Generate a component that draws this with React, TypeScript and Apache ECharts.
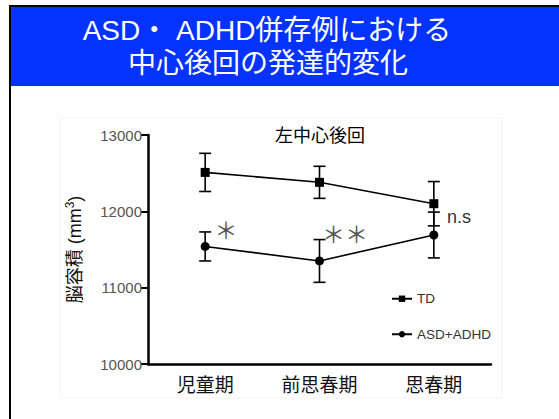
import React, { useEffect, useRef } from "react";
import * as echarts from "echarts";

const categories = ["児童期", "前思春期", "思春期"];
const tdMean = [12510, 12380, 12100];
const tdErr = [250, 210, 290];
const asdMean = [11540, 11350, 11690];
const asdErr = [190, 280, 300];
const yTicks = { min: 10000, max: 13000, interval: 1000 };

const FONT = "Liberation Sans, Arial, Noto Sans CJK JP, sans-serif";
const CJK = "Noto Sans CJK JP, sans-serif";

function errData(mean: number[], err: number[]) {
  return mean.map((m, i) => [i, m - err[i], m + err[i]]);
}

function renderErr(params: any, api: any) {
  const x = api.value(0);
  const lo = api.coord([x, api.value(1)]);
  const hi = api.coord([x, api.value(2)]);
  const hw = 6;
  const style = { stroke: "#000", lineWidth: 1.6 };
  return {
    type: "group",
    children: [
      { type: "line", shape: { x1: lo[0], y1: lo[1], x2: hi[0], y2: hi[1] }, style },
      { type: "line", shape: { x1: lo[0] - hw, y1: lo[1], x2: lo[0] + hw, y2: lo[1] }, style },
      { type: "line", shape: { x1: hi[0] - hw, y1: hi[1], x2: hi[0] + hw, y2: hi[1] }, style },
    ],
  };
}

export default function App() {
  const ref = useRef<HTMLDivElement>(null);
  useEffect(() => {
    if (!ref.current) return;
    const chart = echarts.init(ref.current, null, { renderer: "svg" });
    chart.setOption({
      animation: false,
      backgroundColor: "#fff",
      textStyle: { fontFamily: FONT },
      grid: { left: 148, right: 68, top: 135, bottom: 55 },
      legend: {
        orient: "vertical",
        left: 386,
        top: 287,
        itemWidth: 20,
        itemHeight: 8,
        itemGap: 22,
        textStyle: { fontSize: 13.5, color: "#333", fontFamily: FONT },
        data: ["TD", "ASD+ADHD"],
      },
      xAxis: {
        type: "category",
        data: categories,
        boundaryGap: true,
        axisLine: { lineStyle: { color: "#000", width: 2.5 } },
        axisTick: { alignWithLabel: true, length: 6, lineStyle: { color: "#000", width: 2 } },
        axisLabel: { fontSize: 19, color: "#111", margin: 12, fontFamily: FONT },
      },
      yAxis: {
        type: "value",
        min: yTicks.min,
        max: yTicks.max,
        interval: yTicks.interval,
        splitLine: { show: false },
        axisLine: { show: true, lineStyle: { color: "#000", width: 2.5 } },
        axisTick: { show: true, length: 7, lineStyle: { color: "#000", width: 2 } },
        axisLabel: { fontSize: 15, color: "#555", margin: 6, fontFamily: FONT, formatter: (v: number) => String(v) },
        name: "{a|脳容積 (mm}{s|3}{a|)}",
        nameLocation: "middle",
        nameRotate: 90,
        nameGap: 62,
        nameTextStyle: {
          fontSize: 18,
          color: "#111",
          fontFamily: FONT,
          rich: {
            a: { fontSize: 18, color: "#111", fontFamily: FONT, lineHeight: 22 },
            s: { fontSize: 12, color: "#111", fontFamily: FONT, verticalAlign: "top", lineHeight: 22, padding: [0, 0, 10, 0] },
          },
        },
      },
      graphic: [
        { type: "rect", shape: { x: 60, y: 118, width: 442, height: 280 }, style: { fill: "none", stroke: "#f2f2f2", lineWidth: 1 }, z: -1 },
        { type: "rect", shape: { x: 11, y: 7, width: 548, height: 79 }, style: { fill: "#0433FF" } },
        { type: "line", shape: { x1: 10, y1: 6, x2: 559, y2: 6 }, style: { stroke: "#000", lineWidth: 2 } },
        { type: "line", shape: { x1: 10, y1: 5, x2: 10, y2: 419 }, style: { stroke: "#000", lineWidth: 2 } },
        { type: "text", x: 267, y: 30, style: { text: "ASD・ ADHD併存例における", fill: "#fff", font: `28px ${FONT}`, textAlign: "center", textVerticalAlign: "middle" } },
        { type: "text", x: 268, y: 63, style: { text: "中心後回の発達的変化", fill: "#fff", font: `28px ${FONT}`, textAlign: "center", textVerticalAlign: "middle" } },
        { type: "text", x: 320, y: 136, style: { text: "左中心後回", fill: "#000", font: `18px ${FONT}`, textAlign: "center", textVerticalAlign: "middle" } },
        { type: "text", x: 226, y: 229, style: { text: "＊", fill: "#555", font: `23px ${CJK}`, textAlign: "center", textVerticalAlign: "middle" } },
        { type: "text", x: 345, y: 233, style: { text: "＊＊", fill: "#555", font: `23px ${CJK}`, textAlign: "center", textVerticalAlign: "middle" } },
        { type: "text", x: 447, y: 217, style: { text: "n.s", fill: "#333", font: `18px ${FONT}`, textAlign: "left", textVerticalAlign: "middle" } },
      ],
      series: [
        { type: "custom", name: "tdErr", data: errData(tdMean, tdErr), renderItem: renderErr, z: 1, silent: true },
        { type: "custom", name: "asdErr", data: errData(asdMean, asdErr), renderItem: renderErr, z: 1, silent: true },
        {
          type: "line",
          name: "TD",
          data: tdMean,
          symbol: "rect",
          symbolSize: 9,
          itemStyle: { color: "#000" },
          lineStyle: { color: "#000", width: 1.6 },
          z: 3,
        },
        {
          type: "line",
          name: "ASD+ADHD",
          data: asdMean,
          symbol: "circle",
          symbolSize: 9,
          itemStyle: { color: "#000" },
          lineStyle: { color: "#000", width: 1.6 },
          z: 3,
        },
      ],
    });
    return () => chart.dispose();
  }, []);
  return <div ref={ref} style={{ position: "fixed", left: 0, top: 0, width: 559, height: 419 }} />;
}
